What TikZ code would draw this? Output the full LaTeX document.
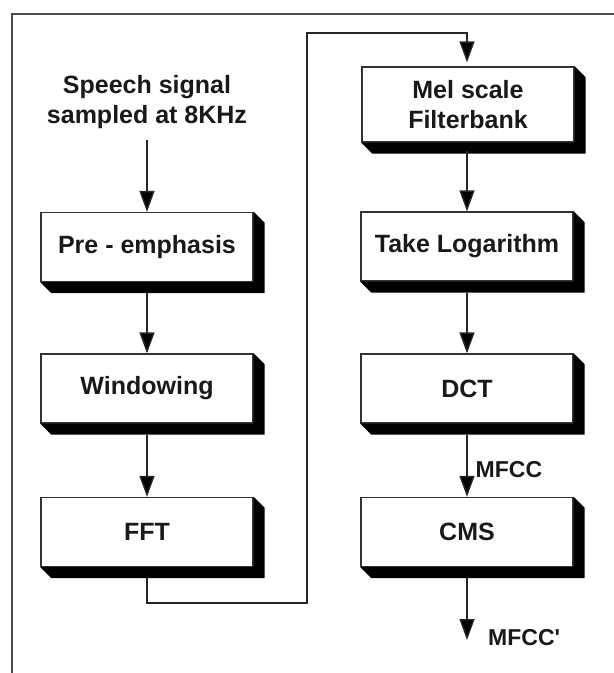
\documentclass[tikz,border=0pt]{standalone}
\usepackage{fontspec}
\setmainfont{Liberation Sans}
\usetikzlibrary{arrows.meta}

\begin{document}
\begin{tikzpicture}[x=1pt,y=-1pt,
  stepbox/.style={draw=black!80, line width=1.3pt, fill=white,
    minimum width=212pt, minimum height=69pt, inner sep=0pt, align=center,
    text=black!90, font=\bfseries\fontsize{25}{30}\selectfont},
  plain/.style={inner sep=0pt, align=center, text=black!90,
    font=\bfseries\fontsize{25}{30}\selectfont},
  tag/.style={inner sep=0pt, anchor=west, text=black!90,
    font=\bfseries\fontsize{23}{27}\selectfont},
  flow/.style={draw=black!85, line width=1.4pt},
  arr/.style={flow, -{Triangle[width=15pt,length=21pt,fill=black]}},
  frame/.style={draw=black!70, line width=2.2pt}]

\useasboundingbox (0,0) rectangle (614,673);

% drop shadow on the right and lower edges of a box
\newcommand\dropshade[1]{%
  \fill[black] (#1.north east) -- ++(11,11)
    -- ([shift={(11,11)}]#1.south east)
    -- ([shift={(11,11)}]#1.south west)
    -- (#1.south west) -- (#1.south east) -- cycle;}

% outer frame
\draw[frame] (12,673) -- (12,14) -- (614,14);

% left column
\node[plain] (speech) at (147,102) {Speech signal\\sampled at 8KHz};
\node[stepbox] (pre) at (147,247) {Pre - emphasis};
\node[stepbox] (win) at (147,388.5) {Windowing};
\node[stepbox] (fft) at (147,532) {FFT};

% right column
\node[stepbox, minimum height=75pt] (mel) at (468,104.5) {Mel scale\\Filterbank};
\node[stepbox] (log) at (467,246.5) {Take Logarithm};
\node[stepbox] (dct) at (467,388.5) {DCT};
\node[stepbox] (cms) at (467,532) {CMS};

\foreach \b in {pre,win,fft,mel,log,dct,cms} {\dropshade{\b}}

% connectors
\coordinate (src) at (147,140);
\draw[arr] (src) -- (pre.north);
\draw[arr] ([shift={(0,11)}]pre.south) -- (win.north);
\draw[arr] ([shift={(0,11)}]win.south) -- (fft.north);
\coordinate (lowbend) at (147,603);
\coordinate (midup) at (307,603);
\coordinate (midtop) at (307,33);
\coordinate (meltop) at (467,33);
\draw[arr] ([shift={(0,11)}]fft.south) -- (lowbend) -- (midup) -- (midtop)
  -- (meltop) -- ([shift={(-1,-4)}]mel.north);
\draw[arr] ([shift={(-1,8)}]mel.south) -- (log.north);
\draw[arr] ([shift={(0,11)}]log.south) -- (dct.north);
\draw[arr] ([shift={(0,11)}]dct.south) -- node[tag, right=8pt, yshift=-4pt] (mfcc) {MFCC} (cms.north);
\coordinate (out) at (467,640);
\draw[arr] ([shift={(0,11)}]cms.south) -- (out);
\node[tag] (mfccp) at (488,638) {MFCC\textquotesingle};

\end{tikzpicture}
\end{document}
